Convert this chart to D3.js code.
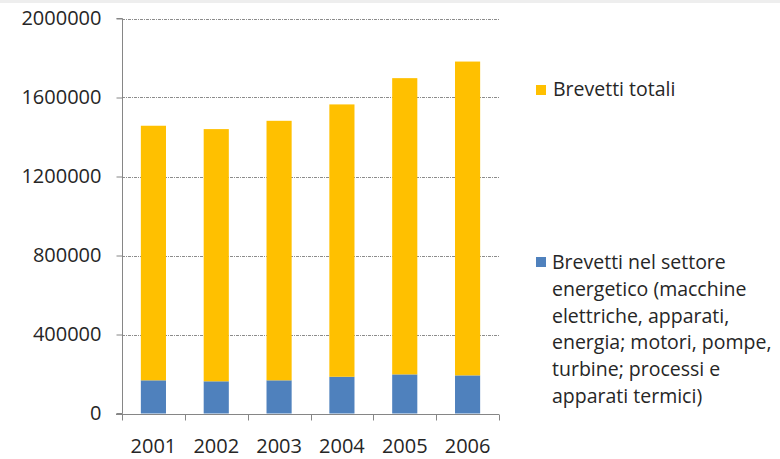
<!DOCTYPE html>
<html><head><meta charset="utf-8">
<script src="https://cdn.jsdelivr.net/npm/d3@7"></script>
<style>body{margin:0;background:#fff;}svg{display:block;}</style>
</head><body>
<svg id="c" width="780" height="459"></svg>
<script>
const years = ["2001","2002","2003","2004","2005","2006"];
const energetico = [168000,163000,168000,186000,198000,193000];
const totali = [1289000,1277000,1314000,1379000,1500000,1589000];
const yTicks = [0,400000,800000,1200000,1600000,2000000];
const legendTotali = ["Brevetti totali"];
const legendEnergetico = ["Brevetti nel settore","energetico (macchine","elettriche, apparati,","energia; motori, pompe,","turbine; processi e","apparati termici)"];

const colors = {energetico:"#4F81BD", totali:"#FFC000"};
const font = "'Open Sans', sans-serif";
const svg = d3.select("#c");
const m = {l:122, r:499, t:18.5, b:413.5};

const x = d3.scaleBand().domain(years).range([m.l, m.r]).paddingInner(0.6).paddingOuter(0.3);
const y = d3.scaleLinear().domain([0,2000000]).range([m.b, m.t]);

// top strip
svg.append("rect").attr("x",0).attr("y",0).attr("width",780).attr("height",3).attr("fill","#eeeeee");

// gridlines
svg.append("g").selectAll("line").data(yTicks.filter(d=>d>0)).join("line")
  .attr("x1",m.l).attr("x2",m.r).attr("y1",d=>Math.round(y(d))+0.5).attr("y2",d=>Math.round(y(d))+0.5)
  .attr("stroke","#8c8c8c").attr("stroke-width",1).attr("stroke-dasharray","3,1,1,1");

const rows = years.map((yr,i)=>({year:yr, energetico:energetico[i], totali:totali[i]}));
const stack = d3.stack().keys(["energetico","totali"])(rows);
svg.append("g").selectAll("g").data(stack).join("g").attr("fill",d=>colors[d.key])
  .selectAll("rect").data(d=>d).join("rect")
  .attr("x",d=>x(d.data.year)).attr("width",x.bandwidth())
  .attr("y",d=>y(d[1])).attr("height",d=>y(d[0])-y(d[1]));

// y axis
const ya = svg.append("g").attr("transform",`translate(${m.l+0.5},0)`)
  .call(d3.axisLeft(y).tickValues(yTicks).tickSize(6).tickPadding(15).tickFormat(d3.format("d")));
ya.select(".domain").attr("stroke","#868686").attr("d",`M-6,${m.t}H0V${m.b}H-6`);
ya.selectAll(".tick line").attr("stroke","#868686");
ya.selectAll(".tick text").attr("font-family",font).attr("font-size",20).attr("fill","#262626");

// x axis
const xa = svg.append("g").attr("transform",`translate(0,${Math.round(m.b)+0.5})`);
xa.append("line").attr("x1",m.l-6).attr("x2",m.r).attr("stroke","#868686");
const bounds = d3.range(years.length+1).map(i=>m.l + i*(m.r-m.l)/years.length);
xa.selectAll("line.t").data(bounds).join("line").attr("class","t")
  .attr("x1",d=>Math.round(d)+0.5).attr("x2",d=>Math.round(d)+0.5).attr("y1",0).attr("y2",6).attr("stroke","#868686");
xa.selectAll("text").data(years).join("text")
  .attr("x",d=>x(d)+x.bandwidth()/2).attr("y",38).attr("text-anchor","middle")
  .attr("font-family",font).attr("font-size",20).attr("fill","#262626").text(d=>d);

// legend
const lg = svg.append("g");
lg.append("rect").attr("x",536).attr("y",85).attr("width",10).attr("height",10).attr("fill",colors.totali);
lg.append("text").attr("x",553).attr("y",96).attr("font-family",font).attr("font-size",19.5).attr("fill","#262626").text(legendTotali[0]);
lg.append("rect").attr("x",536).attr("y",257).attr("width",10).attr("height",10).attr("fill",colors.energetico);
lg.selectAll("text.e").data(legendEnergetico).join("text").attr("class","e")
  .attr("x",552).attr("y",(d,i)=>269+i*26.8).attr("font-family",font).attr("font-size",19.5).attr("fill","#262626").text(d=>d);
</script>
</body></html>
